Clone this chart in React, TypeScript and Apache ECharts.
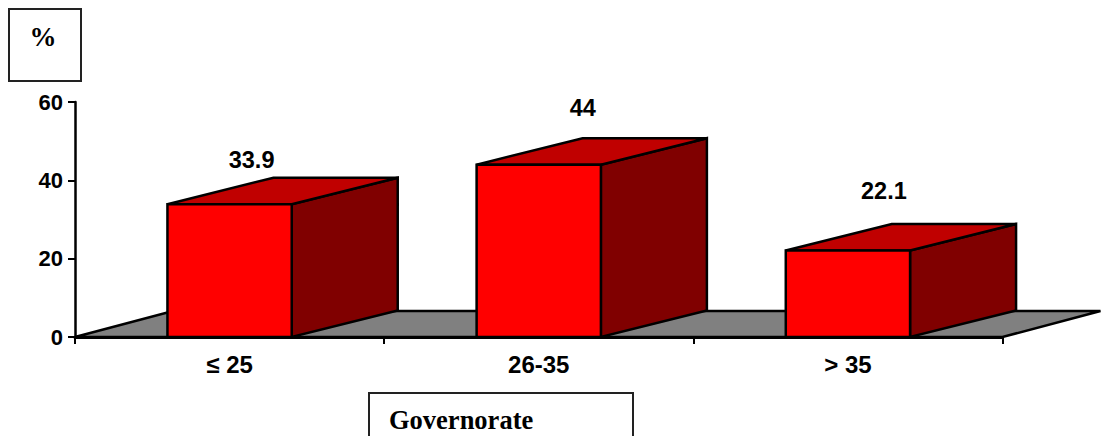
import React, { useEffect, useRef } from "react";
import * as echarts from "echarts";

const categories = ["≤ 25", "26-35", "> 35"];
const percentages = [33.9, 44, 22.1];
const yMin = 0;
const yMax = 60;
const yStep = 20;

// Pixel nudges of each value label relative to the front-top centre of its box.
const labelDx = [22, 44, 36];
const labelDy = [-44, -57, -59];

const BAR_RATIO = 0.402;
const BOX_DX = 106;
const BOX_DY = 26.5;
const FLOOR_DX = 98;
const FLOOR_DY = 26;

const FRONT = "#ff0000";
const TOP = "#c00000";
const SIDE = "#800000";
const FLOOR = "#808080";
const SANS = "'Liberation Sans', Arial, sans-serif";
const SERIF = "'Liberation Serif', 'Times New Roman', serif";

const edge = { stroke: "#000", lineWidth: 2.5, lineJoin: "miter" as const };

function renderFloor(params: any) {
  const { x, y, width, height } = params.coordSys;
  const base = y + height;
  return {
    type: "polygon",
    shape: {
      points: [
        [x, base],
        [x + width, base],
        [x + width + FLOOR_DX, base - FLOOR_DY],
        [x + FLOOR_DX, base - FLOOR_DY],
      ],
    },
    style: { fill: FLOOR, ...edge },
  };
}

function renderBox(params: any, api: any) {
  const i = params.dataIndex;
  const [cx, top] = api.coord([api.value(0), api.value(1)]);
  const [, base] = api.coord([api.value(0), yMin]);
  const w = api.size([1, 0])[0] * BAR_RATIO;
  const l = cx - w / 2;
  const r = cx + w / 2;
  return {
    type: "group",
    children: [
      {
        type: "polygon",
        shape: {
          points: [
            [r, top],
            [r + BOX_DX, top - BOX_DY],
            [r + BOX_DX, base - BOX_DY],
            [r, base],
          ],
        },
        style: { fill: SIDE, ...edge },
      },
      {
        type: "polygon",
        shape: {
          points: [
            [l, top],
            [l + BOX_DX, top - BOX_DY],
            [r + BOX_DX, top - BOX_DY],
            [r, top],
          ],
        },
        style: { fill: TOP, ...edge },
      },
      {
        type: "rect",
        shape: { x: l, y: top, width: w, height: base - top },
        style: { fill: FRONT, ...edge },
      },
      {
        type: "text",
        x: cx + labelDx[i],
        y: top + labelDy[i],
        style: {
          text: String(percentages[i]),
          fill: "#000",
          font: `bold 23.5px ${SANS}`,
          align: "center",
          verticalAlign: "middle",
        },
      },
    ],
  };
}

export default function App() {
  const ref = useRef<HTMLDivElement>(null);

  useEffect(() => {
    const chart = echarts.init(ref.current!, undefined, { renderer: "svg" });
    chart.setOption({
      animation: false,
      backgroundColor: "#fff",
      grid: { left: 75, right: 99.5, top: 102, bottom: 99 },
      xAxis: {
        type: "category",
        data: categories,
        z: 5,
        axisLine: { lineStyle: { color: "#000", width: 3 } },
        axisTick: { show: true, length: 7, lineStyle: { color: "#000", width: 2 } },
        axisLabel: { color: "#000", fontFamily: SANS, fontWeight: "bold", fontSize: 24, margin: 15 },
      },
      yAxis: {
        type: "value",
        min: yMin,
        max: yMax,
        interval: yStep,
        z: 5,
        splitLine: { show: false },
        axisLine: { show: true, lineStyle: { color: "#000", width: 2.5 } },
        axisTick: { show: true, length: 7, lineStyle: { color: "#000", width: 2 } },
        axisLabel: { color: "#000", fontFamily: SANS, fontWeight: "bold", fontSize: 22, margin: 12 },
      },
      series: [
        { type: "custom", coordinateSystem: "cartesian2d", data: [[0, 0]], renderItem: renderFloor, z: 1, silent: true },
        {
          type: "custom",
          coordinateSystem: "cartesian2d",
          data: categories.map((_, i) => [i, percentages[i]]),
          encode: { x: 0, y: 1 },
          renderItem: renderBox,
          z: 2,
          silent: true,
        },
      ],
      graphic: [
        {
          type: "rect",
          shape: { x: 9, y: 9, width: 72, height: 72 },
          style: { fill: "#fff", stroke: "#222", lineWidth: 2 },
        },
        {
          type: "text",
          x: 43,
          y: 37,
          style: { text: "%", fill: "#000", font: `bold 27px ${SERIF}`, align: "center", verticalAlign: "middle" },
        },
        {
          type: "polyline",
          shape: { points: [[369, 436], [369, 393], [633, 393], [633, 436]] },
          style: { fill: "none", stroke: "#222", lineWidth: 2 },
        },
        {
          type: "text",
          x: 389,
          y: 420,
          style: { text: "Governorate", fill: "#000", font: `bold 26.5px ${SERIF}`, align: "left", verticalAlign: "middle" },
        },
      ],
    });
    return () => chart.dispose();
  }, []);

  return <div ref={ref} style={{ position: "absolute", left: 0, top: 0, width: 1102, height: 436 }} />;
}
